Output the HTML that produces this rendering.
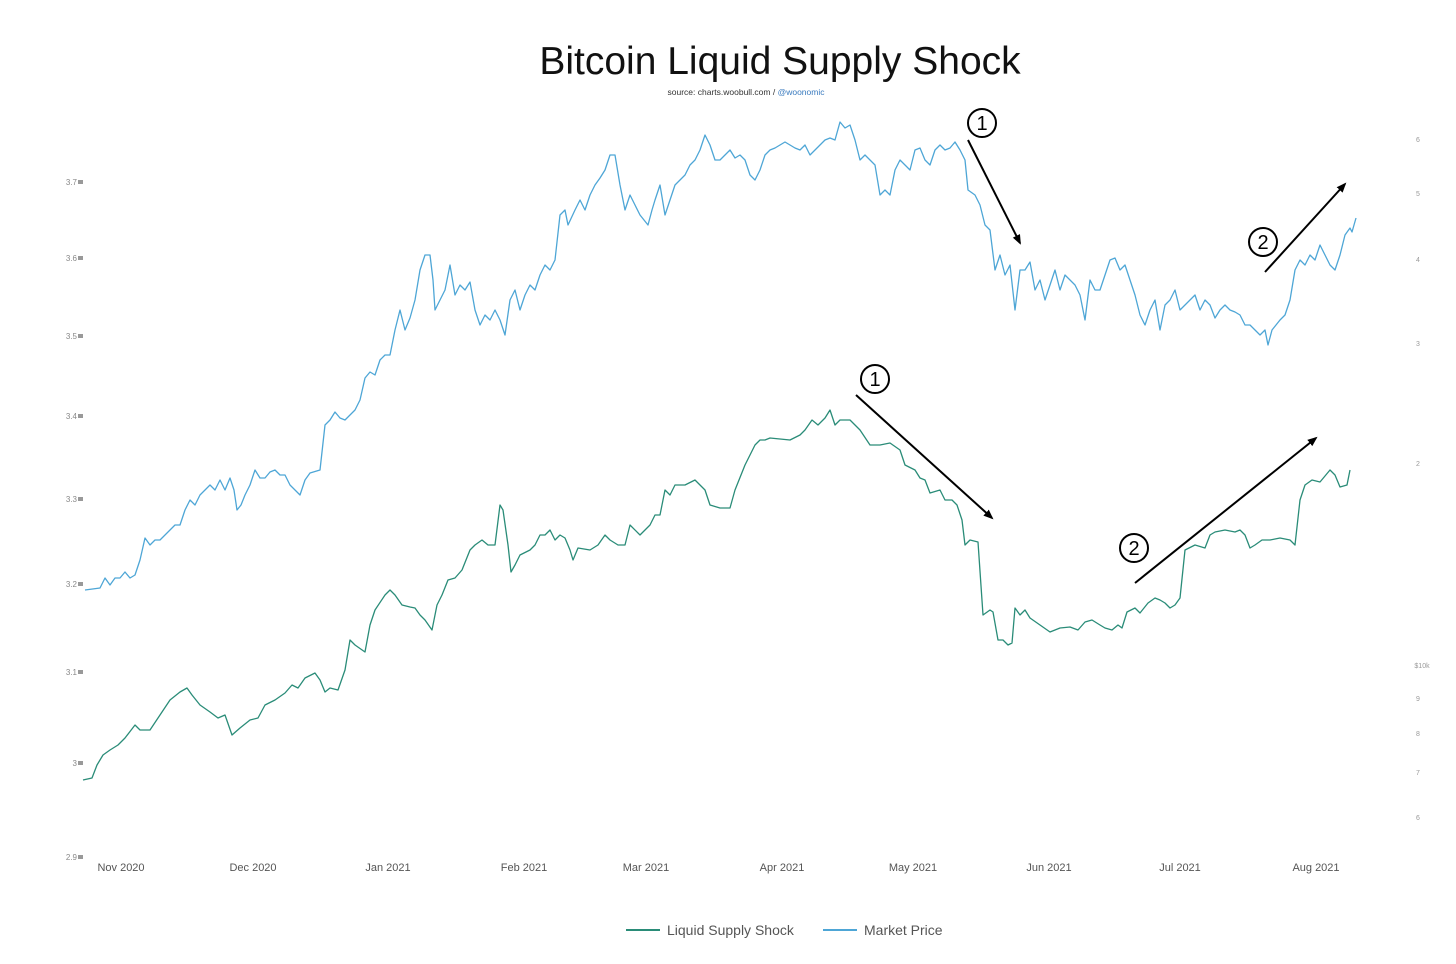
<!DOCTYPE html>
<html><head><meta charset="utf-8"><style>
body{margin:0;background:#fff;width:1456px;height:959px;overflow:hidden}
svg text{font-family:"Liberation Sans",sans-serif}
</style></head><body>
<svg width="1456" height="959" viewBox="0 0 1456 959" xmlns="http://www.w3.org/2000/svg">
<defs><marker id="ah" markerWidth="10" markerHeight="10" refX="8" refY="5" orient="auto" markerUnits="userSpaceOnUse"><path d="M0,1 L10,5 L0,9 z" fill="#000"/></marker></defs>
<text x="780" y="74" font-size="39" text-anchor="middle" fill="#111">Bitcoin Liquid Supply Shock</text>
<text x="746" y="95" font-size="8.5" text-anchor="middle" fill="#333">source: charts.woobull.com / <tspan fill="#3a7bbf">@woonomic</tspan></text>
<g font-size="8" fill="#888" text-anchor="end">
<text x="77" y="185">3.7</text><text x="77" y="261">3.6</text><text x="77" y="339">3.5</text><text x="77" y="419">3.4</text><text x="77" y="502">3.3</text><text x="77" y="587">3.2</text><text x="77" y="675">3.1</text><text x="77" y="766">3</text><text x="77" y="860">2.9</text>
</g>
<g fill="#999"><rect x="78" y="180" width="5" height="4"/><rect x="78" y="256" width="5" height="4"/><rect x="78" y="334" width="5" height="4"/><rect x="78" y="414" width="5" height="4"/><rect x="78" y="497" width="5" height="4"/><rect x="78" y="582" width="5" height="4"/><rect x="78" y="670" width="5" height="4"/><rect x="78" y="761" width="5" height="4"/><rect x="78" y="855" width="5" height="4"/></g>
<g font-size="7" fill="#999" text-anchor="middle">
<text x="1418" y="142">6</text><text x="1418" y="196">5</text><text x="1418" y="262">4</text><text x="1418" y="346">3</text><text x="1418" y="466">2</text><text x="1422" y="668">$10k</text><text x="1418" y="701">9</text><text x="1418" y="736">8</text><text x="1418" y="775">7</text><text x="1418" y="820">6</text>
</g>
<g font-size="11" fill="#555" text-anchor="middle">
<text x="121" y="871">Nov 2020</text><text x="253" y="871">Dec 2020</text><text x="388" y="871">Jan 2021</text><text x="524" y="871">Feb 2021</text><text x="646" y="871">Mar 2021</text><text x="782" y="871">Apr 2021</text><text x="913" y="871">May 2021</text><text x="1049" y="871">Jun 2021</text><text x="1180" y="871">Jul 2021</text><text x="1316" y="871">Aug 2021</text>
</g>
<polyline fill="none" stroke="#4ea6d6" stroke-width="1.3" stroke-linejoin="round" points="85,590 100,588 105,578 110,585 115,578 120,578 125,572 130,578 135,575 140,560 145,538 150,545 155,540 160,540 165,535 170,530 175,525 180,525 185,510 190,500 195,505 200,495 205,490 210,485 215,490 220,480 225,490 230,478 234,490 237,510 241,505 245,495 250,485 255,470 260,478 265,478 270,472 275,470 280,475 285,475 290,485 295,490 300,495 305,480 310,473 320,470 325,425 330,420 335,412 340,418 345,420 350,415 355,410 360,400 365,378 370,372 375,375 380,360 385,355 390,355 395,330 400,310 405,330 410,318 415,300 420,270 425,255 430,255 433,280 435,310 440,300 445,290 450,265 455,295 460,285 465,290 470,282 475,310 480,325 485,315 490,320 495,310 500,320 505,335 510,300 515,290 520,310 525,295 530,285 535,290 540,275 545,265 550,270 555,260 560,215 565,210 568,225 575,210 580,200 585,210 590,195 595,185 600,178 605,170 610,155 615,155 620,185 625,210 630,195 635,205 640,215 648,225 652,210 655,200 660,185 665,215 670,200 675,185 680,180 685,175 690,165 695,160 700,150 705,135 710,145 715,160 720,160 725,155 730,150 735,158 740,155 745,160 750,175 755,180 760,170 765,155 770,150 775,148 780,145 785,142 790,145 795,148 800,150 805,145 810,155 815,150 820,145 825,140 830,138 835,140 840,122 845,128 850,125 855,140 860,160 865,155 870,160 875,165 880,195 885,190 890,195 895,170 900,160 905,165 910,170 915,150 920,148 925,160 930,165 935,150 940,145 945,150 950,148 955,142 960,150 965,160 968,190 975,195 980,205 985,225 990,230 995,270 1000,255 1005,275 1010,265 1015,310 1020,270 1025,270 1030,262 1035,290 1040,280 1045,300 1050,285 1055,270 1060,290 1065,275 1070,280 1075,285 1080,295 1085,320 1090,280 1095,290 1100,290 1105,275 1110,260 1115,258 1120,270 1125,265 1130,280 1135,295 1140,315 1145,325 1150,310 1155,300 1160,330 1165,305 1170,300 1175,290 1180,310 1185,305 1190,300 1195,295 1200,310 1205,300 1210,305 1215,318 1220,310 1225,305 1230,310 1235,312 1240,315 1245,325 1250,325 1255,330 1260,335 1265,330 1268,345 1272,330 1280,320 1285,315 1290,300 1295,270 1300,260 1305,265 1310,255 1315,260 1320,245 1325,255 1330,265 1335,270 1340,255 1345,235 1350,228 1352,232 1356,218"/>
<polyline fill="none" stroke="#2a8c78" stroke-width="1.3" stroke-linejoin="round" points="83,780 92,778 97,765 103,755 110,750 118,745 125,738 135,725 140,730 150,730 160,715 170,700 180,692 187,688 192,695 200,705 210,712 218,718 225,715 232,735 240,728 250,720 258,718 265,705 275,700 285,693 292,685 298,688 305,678 315,673 320,680 325,692 330,688 338,690 345,670 350,640 355,645 365,652 370,625 375,610 385,595 390,590 395,595 402,605 410,607 415,608 420,615 425,620 432,630 437,605 442,595 448,580 455,578 462,570 470,550 475,545 482,540 488,545 495,545 500,505 503,510 508,545 511,572 515,565 520,555 530,550 535,545 540,535 545,535 550,530 555,540 560,535 565,538 570,550 573,560 578,548 590,550 598,545 605,535 610,540 618,545 625,545 630,525 640,535 650,525 655,515 660,515 665,490 670,495 675,485 685,485 695,480 705,490 710,505 720,508 730,508 735,490 745,465 755,445 760,440 765,440 770,438 790,440 800,435 805,430 812,420 818,425 825,418 830,410 835,425 840,420 850,420 860,430 870,445 880,445 890,443 900,450 905,465 915,470 920,478 925,480 930,493 940,490 945,500 952,500 957,505 962,520 965,545 970,540 978,542 983,615 990,610 993,612 998,640 1003,640 1008,645 1012,643 1015,608 1020,615 1025,610 1030,618 1040,625 1050,632 1060,628 1070,627 1078,630 1085,622 1092,620 1100,625 1105,628 1112,630 1118,625 1122,628 1127,612 1135,608 1140,613 1148,603 1155,598 1160,600 1165,603 1170,608 1175,605 1180,598 1185,550 1195,545 1205,548 1210,535 1215,532 1225,530 1235,532 1240,530 1245,535 1250,548 1255,545 1262,540 1270,540 1280,538 1290,540 1295,545 1300,500 1305,485 1312,480 1320,482 1330,470 1335,475 1340,487 1347,485 1350,470"/>
<g stroke="#000" stroke-width="2" fill="none">
<line x1="968" y1="140" x2="1020" y2="243" marker-end="url(#ah)"/>
<line x1="1265" y1="272" x2="1345" y2="184" marker-end="url(#ah)"/>
<line x1="856" y1="395" x2="992" y2="518" marker-end="url(#ah)"/>
<line x1="1135" y1="583" x2="1316" y2="438" marker-end="url(#ah)"/>
<circle cx="982" cy="123" r="14"/><circle cx="1263" cy="242" r="14"/><circle cx="875" cy="379" r="14"/><circle cx="1134" cy="548" r="14"/>
</g>
<g font-size="20" text-anchor="middle" fill="#000">
<text x="982" y="130">1</text><text x="1263" y="249">2</text><text x="875" y="386">1</text><text x="1134" y="555">2</text>
</g>
<line x1="626" y1="930" x2="660" y2="930" stroke="#2a8c78" stroke-width="2"/>
<text x="667" y="935" font-size="14" fill="#555">Liquid Supply Shock</text>
<line x1="823" y1="930" x2="857" y2="930" stroke="#4ea6d6" stroke-width="2"/>
<text x="864" y="935" font-size="14" fill="#555">Market Price</text>
</svg>
</body></html>
